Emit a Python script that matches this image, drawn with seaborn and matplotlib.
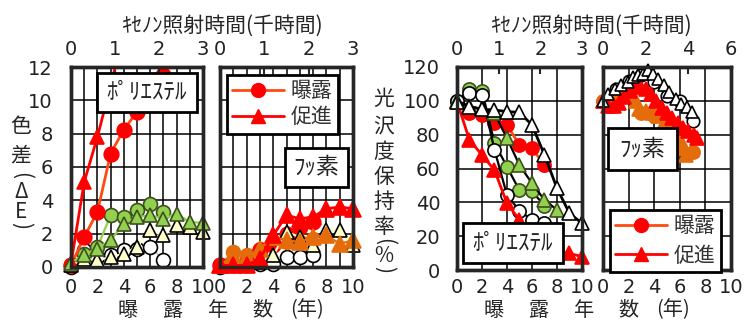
import matplotlib
matplotlib.use("Agg")
import matplotlib.pyplot as plt
import matplotlib.patches as mpatches
from matplotlib.lines import Line2D
from matplotlib.ticker import FixedLocator, MultipleLocator
import seaborn as sns

sns.set_style("white")
plt.rcParams['font.family'] = ['Noto Sans CJK JP', 'DejaVu Sans']
plt.rcParams['axes.unicode_minus'] = False

# ---------------- data ----------------
# exposure (years) / accelerated (thousand hours of xenon irradiation)
exp_years = [0, 1, 2, 3, 4, 5, 6, 7]
acc_kh_3 = [0, 0.3, 0.6, 0.9, 1.2, 1.5, 1.8, 2.1, 2.4, 2.7, 3.0]

# Left chart: colour difference (ΔE) - polyester
de_pe_exp_red = [0.1, 1.8, 3.3, 6.8, 8.25, 9.3, 10.4, 11.5]
de_pe_exp_green = [0.1, 0.8, 1.2, 3.1, 3.0, 3.4, 3.8, 3.3]
de_pe_exp_white = [0.0, 1.0, 0.6, 0.7, 1.0, 1.1, 1.2, 0.45]
de_pe_acc_red_kh = [0, 0.3, 0.6, 1.2]
de_pe_acc_red = [0.2, 5.1, 7.8, 14.0]
de_pe_acc_green = [0.25, 0.75, 1.1, 1.6, 2.6, 3.0, 3.1, 2.9, 3.2, 2.7, 2.65]
de_pe_acc_cream = [0.1, 0.5, 0.4, 0.6, 0.8, 1.2, 2.2, 1.9, 2.5, 2.4, 2.1]

# Left chart: colour difference (ΔE) - fluorine
de_f_exp_red = [0.1, 0.2, 0.3, 1.0, 1.3, 2.0, 2.4, 2.7]
de_f_exp_orange = [0.1, 0.9, 0.7, 1.1, 1.5, 1.5, 1.5, 1.7]
de_f_exp_white = [0.0, 0.1, 0.1, 0.2, 0.2, 0.6, 0.6, 0.7]
de_f_acc_red = [0.1, 0.1, 0.1, 0.5, 1.9, 3.1, 2.9, 3.0, 3.5, 3.6, 3.5]
de_f_acc_orange = [0.1, 0.7, 0.6, 1.1, 1.8, 1.6, 1.5, 1.8, 1.9, 1.4, 1.6]
de_f_acc_cream = [0.1, 0.2, 0.2, 0.3, 0.7, 2.1, 1.8, 1.3, 2.2, 2.2, 1.3]

# Right chart: gloss retention (%) - polyester
gl_pe_exp_red = [100, 92.6, 91.6, 86.7, 85.7, 73.9, 71.9, 62]
gl_pe_exp_green = [100, 107, 106, 75, 61, 47, 46.5, 38]
gl_pe_exp_white = [100, 104.4, 103.4, 71, 44.3, 35, 29.6, 27.6]
gl_pe_acc_red = [99.5, 76.8, 68, 59, 39.4, 29.6, 20, 14, 11, 9.8, 7.9]
gl_pe_acc_white = [99.5, 96.5, 95, 94.6, 93.6, 93.2, 85.7, 68, 48.3, 33.5, 27.6]
gl_pe_acc_green_kh = [0, 0.3, 0.6, 0.9, 1.2, 1.5, 1.8, 2.1, 2.4]
gl_pe_acc_green = [100, 97, 95, 92.6, 77.8, 62, 51.2, 41.4, 35.5]

# Right chart: gloss retention (%) - fluorine
gl_f_acc_white_kh = [0, 0.23, 0.54, 0.85, 1.16, 1.4, 1.63, 1.86, 2.09, 2.33, 2.56,
                     2.87, 3.1, 3.41, 3.64, 3.95, 4.19]
gl_f_acc_white = [100, 104.2, 107.2, 109.2, 111.1, 114, 115, 116, 118, 116, 113,
                  109.2, 105.2, 101.2, 98.3, 96.3, 93.4]
gl_f_acc_red_kh = [0, 0.25, 0.5, 0.75, 1.0, 1.25, 1.5, 1.75, 2.0, 2.25, 2.5, 2.75,
                   3.0, 3.25, 3.5, 3.75, 4.0, 4.25, 4.4]
gl_f_acc_red = [100, 97, 97, 99, 102, 106, 108, 109, 107, 104, 100, 96, 93, 90, 87,
                84, 82, 80, 78]
gl_f_acc_orange_kh = [0, 0.3, 0.6, 0.9, 1.2, 1.4, 1.55, 1.7, 2.0, 2.3, 2.6, 2.9,
                      3.15, 3.4, 3.65, 3.9, 4.15]
gl_f_acc_orange = [100, 100, 101, 103, 105, 109, 100, 95, 94, 93, 91, 88, 84, 80,
                   76, 68, 71]
gl_f_exp_white = [100, 107, 112, 115, 111, 103, 100, 88]
gl_f_exp_orange = [100, 101, 104, 93, 91, 87, 72, 70]

# labels
year_ticks = [0, 2, 4, 6, 8, 10]
title_txt = "ｷｾﾉﾝ照射時間(千時間)"
legend_labels = ["曝露", "促進"]

RED = "#FF0000"
RED_LINE = "#FF4A10"
GREEN = "#92D050"
GREEN_EDGE = "#3C4F1C"
CREAM = "#FFFFCC"
ORANGE = "#E46C0A"

TICK_FONT = dict(family=['DejaVu Sans'], size=14)

W, H = 747, 320
fig = plt.figure(figsize=(W / 100, H / 100), dpi=100)


def px_box(x0, y0, x1, y1):
    return [x0 / W, 1 - y1 / H, (x1 - x0) / W, (y1 - y0) / H]


def style_ticklabels(axis):
    for lab in axis.get_xticklabels() + axis.get_yticklabels():
        lab.set_fontfamily(TICK_FONT['family'])
        lab.set_fontsize(TICK_FONT['size'])
        lab.set_color('#222222')


def setup(ax, ylim, ymaj, ymin, xminor, top_max, top_ticks, ylabels, ypad, xpad):
    ax.set_xlim(0, 10)
    ax.set_ylim(*ylim)
    ax.xaxis.set_major_locator(FixedLocator(year_ticks))
    ax.xaxis.set_minor_locator(MultipleLocator(xminor))
    ax.yaxis.set_major_locator(MultipleLocator(ymaj))
    ax.yaxis.set_minor_locator(MultipleLocator(ymin))
    ax.set_axisbelow(True)
    ax.xaxis.grid(True, which='both', color='black', lw=1.1)
    ax.yaxis.grid(True, which='major', color='black', lw=1.1)
    ax.tick_params(axis='x', which='both', length=0, pad=xpad)
    ax.tick_params(axis='y', which='major', length=0, pad=ypad, labelleft=ylabels)
    ax.tick_params(axis='y', which='minor', direction='in', length=4, width=1.2)
    for s in ax.spines.values():
        s.set_linewidth(2.4)
        s.set_color('black')
    ax.set_xlabel("")
    ax.set_ylabel("")
    axt = ax.twiny()
    axt.set_xlim(0, top_max)
    axt.set_xticks(top_ticks)
    axt.tick_params(axis='x', direction='in', length=5, width=1.5, pad=6)
    axt.patch.set_visible(False)
    for s in axt.spines.values():
        s.set_linewidth(2.4)
    return axt


def series(axis, x, y, marker, fc, ec, lc, ms, lw=1.6, mew=1.2, clip=False):
    sns.lineplot(x=x, y=y, ax=axis, color=lc, marker=marker, markersize=ms,
                 markerfacecolor=fc, markeredgecolor=ec, markeredgewidth=mew,
                 linewidth=lw, sort=False, estimator=None, legend=False,
                 clip_on=clip)
    axis.set_xlabel("")
    axis.set_ylabel("")


def label_box(axis, x0, y0, x1, y1, txt, fs):
    rect = mpatches.Rectangle((x0 / W, 1 - y1 / H), (x1 - x0) / W, (y1 - y0) / H,
                              transform=fig.transFigure, fc='white', ec='black',
                              lw=2, zorder=20, clip_on=False)
    axis.add_patch(rect)
    axis.text((x0 + x1) / 2 / W, 1 - (y0 + y1) / 2 / H, txt, transform=fig.transFigure,
              ha='center', va='center', fontsize=fs, zorder=21, color='#222222')


def legend(axis, x0, y0, spacing):
    h = [Line2D([], [], color=RED_LINE, lw=2, marker='o', ms=10, mfc=RED, mec=RED),
         Line2D([], [], color=RED, lw=2, marker='^', ms=10, mfc=RED, mec=RED)]
    lg = axis.legend(h, legend_labels, loc='upper left',
                     bbox_to_anchor=(x0 / W, 1 - y0 / H),
                     bbox_transform=fig.transFigure, fontsize=15, frameon=True,
                     fancybox=False, edgecolor='black', framealpha=1,
                     handlelength=2.5, handletextpad=0.3, borderpad=0.25,
                     labelspacing=spacing, borderaxespad=0)
    lg.get_frame().set_linewidth(2)
    lg.set_zorder(30)
    for t in lg.get_texts():
        t.set_color('#333333')


# ---------------- panel 1: ΔE polyester ----------------
ax1 = fig.add_axes(px_box(71, 67, 203, 267))
t1 = setup(ax1, (0, 12), 2, 1, 1, 3, [0, 1, 2, 3], True, 13, 8)
series(ax1, exp_years, de_pe_exp_white, 'o', 'white', 'black', '#BBBBBB', 10, lw=1.0)
series(ax1, exp_years, de_pe_exp_green, 'o', GREEN, GREEN_EDGE, GREEN, 10)
series(ax1, exp_years, de_pe_exp_red, 'o', RED, RED, RED_LINE, 10.5, lw=2)
series(t1, acc_kh_3, de_pe_acc_cream, '^', CREAM, 'black', CREAM, 10)
series(t1, acc_kh_3, de_pe_acc_green, '^', GREEN, GREEN_EDGE, GREEN, 10)
series(t1, de_pe_acc_red_kh, de_pe_acc_red, '^', RED, RED, RED, 10, lw=2, clip=True)
label_box(t1, 97, 73, 197, 112, "ﾎﾟﾘｴｽﾃﾙ", 16.5)

# ---------------- panel 2: ΔE fluorine ----------------
ax2 = fig.add_axes(px_box(220, 67, 353, 267))
t2 = setup(ax2, (0, 12), 2, 1, 1, 3, [0, 1, 2, 3], False, 13, 8)
series(ax2, exp_years, de_f_exp_white, 'o', 'white', 'black', '#BBBBBB', 10, lw=1.0)
series(ax2, exp_years, de_f_exp_orange, 'o', ORANGE, ORANGE, ORANGE, 10)
series(ax2, exp_years, de_f_exp_red, 'o', RED, RED, RED_LINE, 10.5, lw=2)
series(t2, acc_kh_3, de_f_acc_cream, '^', CREAM, 'black', CREAM, 10)
series(t2, acc_kh_3, de_f_acc_orange, '^', ORANGE, ORANGE, ORANGE, 11)
series(t2, acc_kh_3, de_f_acc_red, '^', RED, RED, RED, 11, lw=2)
label_box(t2, 285, 148, 348, 187, "ﾌｯ素", 16.5)
legend(t2, 227, 75, 0.2)

# ---------------- panel 3: gloss polyester ----------------
ax3 = fig.add_axes(px_box(457, 67, 582, 270))
t3 = setup(ax3, (0, 120), 20, 10, 2, 3, [0, 1, 2, 3], True, 12, 6)
series(ax3, exp_years, gl_pe_exp_red, 'o', RED, RED, RED_LINE, 9.5, lw=2)
series(ax3, exp_years, gl_pe_exp_green, 'o', GREEN, GREEN_EDGE, 'black', 9.5)
series(ax3, exp_years, gl_pe_exp_white, 'o', 'white', 'black', 'black', 9.5)
series(t3, acc_kh_3, gl_pe_acc_red, '^', RED, RED, RED, 10, lw=2)
series(t3, gl_pe_acc_green_kh, gl_pe_acc_green, '^', GREEN, GREEN_EDGE, 'black', 10)
series(t3, acc_kh_3, gl_pe_acc_white, '^', 'white', 'black', 'black', 10.5, lw=2)
label_box(t3, 463, 223, 563, 263, "ﾎﾟﾘｴｽﾃﾙ", 16.5)

# ---------------- panel 4: gloss fluorine ----------------
ax4 = fig.add_axes(px_box(603, 67, 731, 270))
t4 = setup(ax4, (0, 120), 20, 10, 2, 6, [0, 2, 4, 6], False, 12, 6)
series(ax4, exp_years, gl_f_exp_white, 'o', 'white', 'black', 'black', 9)
series(ax4, exp_years, gl_f_exp_orange, 'o', ORANGE, ORANGE, ORANGE, 9.5)
series(t4, gl_f_acc_orange_kh, gl_f_acc_orange, '^', ORANGE, ORANGE, ORANGE, 9.5, lw=3)
series(t4, gl_f_acc_red_kh, gl_f_acc_red, '^', RED, RED, RED, 9.5, lw=3)
series(t4, gl_f_acc_white_kh, gl_f_acc_white, '^', 'white', 'black', 'black', 9)
label_box(t4, 608, 128, 677, 170, "ﾌｯ素", 16.5)
legend(t4, 610, 210, 0.35)

for a in (ax1, ax2, ax3, ax4, t1, t2, t3, t4):
    style_ticklabels(a)

# ---------------- texts ----------------
for cx in (223, 592):
    fig.text(cx / W, 1 - 26 / H, title_txt, ha='center', va='center', fontsize=15)


def vertical_label(x, chars, ys):
    for ch, cy in zip(chars, ys):
        rot = -90 if ch in "()" else 0
        fig.text(x / W, 1 - cy / H, ch, ha='center', va='center', fontsize=15,
                 rotation=rot, rotation_mode='anchor')


vertical_label(21, ["色", "差", "(", "Δ", "E", ")"], [127, 155, 176, 192, 212, 226])
vertical_label(384, ["光", "沢", "度", "保", "持", "率", "(", "%", ")"],
               [99, 126, 152, 177, 202, 227, 242, 256, 270])

for base in (0, 366):
    for ch, cx in zip(["曝", "露", "年", "数", "(年)"], [128, 173, 218, 262, 307]):
        fig.text((cx + base) / W, 1 - 310 / H, ch, ha='center', va='center', fontsize=14.5)

fig.savefig("out.png", dpi=100)
